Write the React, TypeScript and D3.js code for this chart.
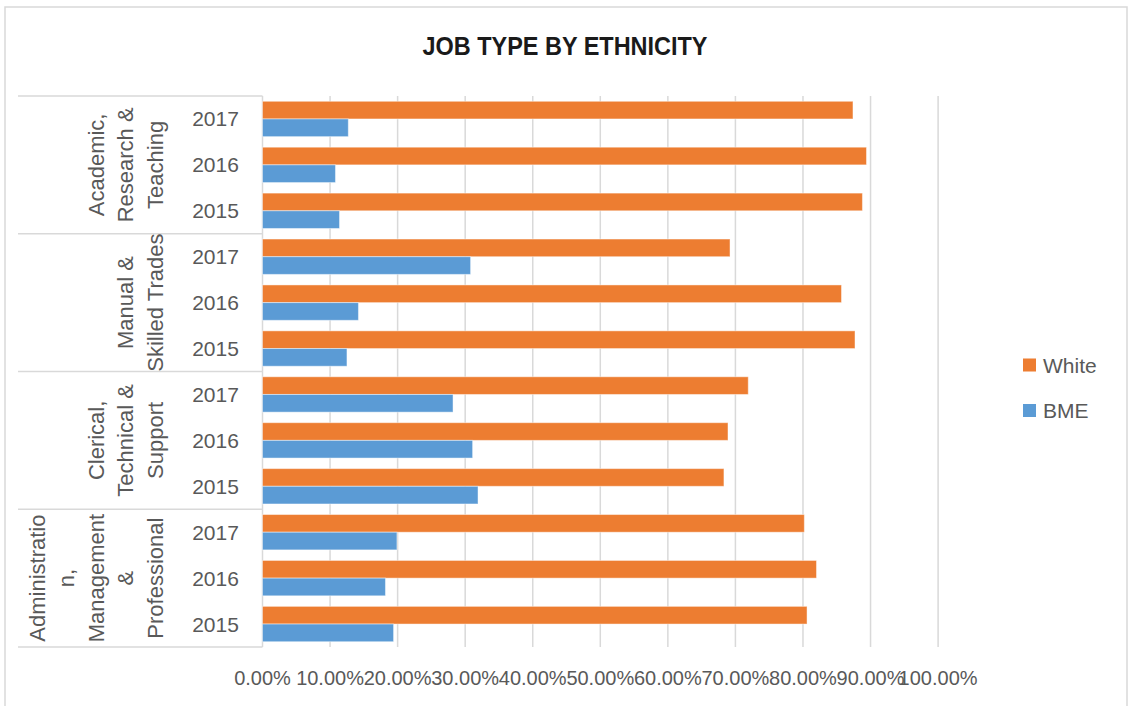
import React from "react";
import * as d3 from "d3";

const title = "JOB TYPE BY ETHNICITY";
const categories = [
  "Academic, Research & Teaching",
  "Manual & Skilled Trades",
  "Clerical, Technical & Support",
  "Administration, Management & Professional",
];
const categoryLines = [
  ["Academic,", "Research &", "Teaching"],
  ["Manual &", "Skilled Trades"],
  ["Clerical,", "Technical &", "Support"],
  ["Administratio", "n,", "Management", "&", "Professional"],
];
const years = ["2017", "2016", "2015"];
// values per category, in order 2017, 2016, 2015
const whiteValues = [
  [0.874, 0.894, 0.888],
  [0.692, 0.857, 0.877],
  [0.719, 0.689, 0.683],
  [0.802, 0.82, 0.806],
];
const bmeValues = [
  [0.127, 0.108, 0.114],
  [0.308, 0.142, 0.125],
  [0.282, 0.311, 0.319],
  [0.199, 0.182, 0.194],
];
const seriesNames = ["White", "BME"];
const seriesColors = ["#ED7D31", "#5B9BD5"];
const xTicks = [0, 0.1, 0.2, 0.3, 0.4, 0.5, 0.6, 0.7, 0.8, 0.9, 1.0];

const W = 1128;
const H = 706;
const FONT = "'Liberation Sans', Arial, sans-serif";
const TEXT = "#595959";
const GRID = "#D9D9D9";

export default function App() {
  const plotLeft = 262.5;
  const plotRight = 938.1;
  const plotTop = 96;
  const plotBottom = 647;
  const tableLeft = 18;

  const x = d3.scaleLinear().domain([0, 1]).range([plotLeft, plotRight]);

  const rows: { cat: number; year: string; yi: number; key: string }[] = [];
  categories.forEach((_, ci) =>
    years.forEach((yr, yi) => rows.push({ cat: ci, year: yr, yi, key: `${ci}-${yr}` }))
  );

  const y = d3
    .scaleBand<string>()
    .domain(rows.map((r) => r.key))
    .range([plotTop, plotBottom])
    .paddingInner(0.23)
    .paddingOuter(0.115);

  const sub = d3.scaleBand<string>().domain(seriesNames).range([0, y.bandwidth()]);

  const step = y.step();
  const groupH = step * years.length;
  const fmt = d3.format(".2%");

  return (
    <svg
      width={W}
      height={H}
      style={{ position: "absolute", left: 0, top: 0, background: "#fff" }}
    >
      <rect x={0} y={0} width={W} height={H} fill="#fff" />
      <rect x={5} y={7} width={1122} height={720} fill="#fff" stroke={GRID} strokeWidth={1.5} />

      <text
        x={565}
        y={55}
        textAnchor="middle"
        fontFamily={FONT}
        fontWeight="bold"
        fontSize={25}
        fill="#1a1a1a"
        textLength={285}
        lengthAdjust="spacingAndGlyphs"
      >
        {title}
      </text>

      {/* gridlines */}
      {xTicks.map((t) => (
        <line
          key={t}
          x1={x(t)}
          x2={x(t)}
          y1={plotTop}
          y2={plotBottom}
          stroke={GRID}
          strokeWidth={1.5}
        />
      ))}

      {/* category table lines */}
      {d3.range(categories.length + 1).map((i) => (
        <line
          key={"h" + i}
          x1={tableLeft}
          x2={plotLeft}
          y1={plotTop + i * groupH}
          y2={plotTop + i * groupH}
          stroke={GRID}
          strokeWidth={1.5}
        />
      ))}

      {/* bars */}
      {rows.map((r) => {
        const vals = [whiteValues[r.cat][r.yi], bmeValues[r.cat][r.yi]];
        return (
          <g key={r.key}>
            {seriesNames.map((s, si) => (
              <rect
                key={s}
                x={x(0)}
                y={(y(r.key) as number) + (sub(s) as number)}
                width={x(vals[si]) - x(0)}
                height={sub.bandwidth()}
                fill={seriesColors[si]}
                stroke="rgba(255,255,255,0.45)"
                strokeWidth={1}
              />
            ))}
          </g>
        );
      })}

      {/* year labels */}
      {rows.map((r) => (
        <text
          key={"yl" + r.key}
          x={215.5}
          y={(y(r.key) as number) + y.bandwidth() / 2}
          textAnchor="middle"
          dominantBaseline="central"
          fontFamily={FONT}
          fontSize={21}
          fill={TEXT}
        >
          {r.year}
        </text>
      ))}

      {/* category labels, rotated */}
      {categoryLines.map((lines, ci) => {
        const cy = plotTop + ci * groupH + groupH / 2;
        const lineGap = 29.5;
        const lastX = 155;
        return (
          <g key={"cl" + ci}>
            {lines.map((ln, li) => {
              const cx = lastX - (lines.length - 1 - li) * lineGap;
              return (
                <text
                  key={li}
                  transform={`translate(${cx},${cy}) rotate(-90)`}
                  textAnchor="middle"
                  dominantBaseline="central"
                  fontFamily={FONT}
                  fontSize={22}
                  fill={TEXT}
                >
                  {ln}
                </text>
              );
            })}
          </g>
        );
      })}

      {/* x tick labels */}
      {xTicks.map((t) => (
        <text
          key={"t" + t}
          x={x(t)}
          y={678}
          textAnchor="middle"
          dominantBaseline="central"
          fontFamily={FONT}
          fontSize={20}
          fill={TEXT}
        >
          {fmt(t)}
        </text>
      ))}

      {/* legend */}
      {seriesNames.map((s, i) => {
        const cy = 365 + i * 45.5;
        return (
          <g key={"lg" + s}>
            <rect x={1023} y={cy - 6.5} width={13} height={13} fill={seriesColors[i]} />
            <text
              x={1043}
              y={cy}
              dominantBaseline="central"
              fontFamily={FONT}
              fontSize={21}
              fill={TEXT}
            >
              {s}
            </text>
          </g>
        );
      })}
    </svg>
  );
}
